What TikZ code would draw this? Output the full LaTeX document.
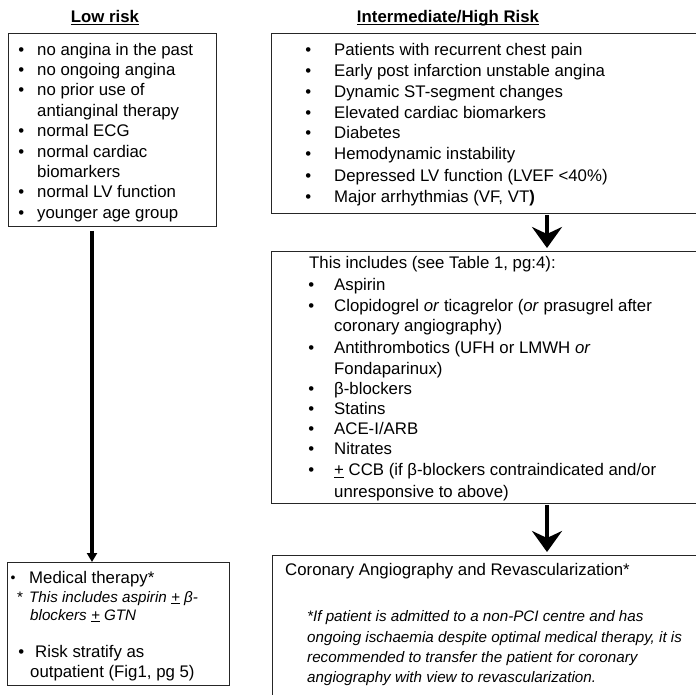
\documentclass[tikz,border=0pt]{standalone}
\usepackage{fontspec}
\setmainfont{Liberation Sans}
\usetikzlibrary{arrows.meta}
\newcommand{\mybul}[1]{\llap{\makebox[0pt]{\textbullet}\hspace{#1pt}}}
\newcommand{\smbul}[1]{\llap{\makebox[0pt]{\raisebox{0.6pt}{\fontsize{14}{14}\selectfont\textbullet}}\hspace{#1pt}}}
\newcommand{\pmu}{\underline{+}}
\begin{document}
\begin{tikzpicture}[x=1pt,y=-1pt,
  box/.style={draw=black!85, line width=0.9pt, anchor=north west, inner sep=0pt},
  txt/.style={anchor=base west, inner sep=0pt, font=\fontsize{16.8}{20}\selectfont},
  itx/.style={anchor=base west, inner sep=0pt, font=\fontsize{15.2}{18}\selectfont\itshape},
  ttl/.style={anchor=base, inner sep=0pt, font=\fontsize{16.8}{20}\selectfont\bfseries},
  thinarrow/.style={line width=3.5pt, -{Triangle[width=10pt,length=9pt]}},
  bigarrow/.style={line width=4pt, -{Stealth[width=30pt,length=21pt,inset=7pt]}}]
\useasboundingbox (0,0) rectangle (696,694);

% titles
\node[ttl] (tlow) at (105,22.7) {\underline{\smash{Low risk}}};
\node[ttl] (thigh) at (448,22.7) {\underline{\smash{Intermediate/High Risk}}};

% boxes
\node[box, minimum width=208pt, minimum height=193pt] (low) at (8,33) {};
\node[box, minimum width=426pt, minimum height=180pt] (high) at (271,33) {};
\node[box, minimum width=426pt, minimum height=252pt] (mid) at (271,251) {};
\node[box, minimum width=222pt, minimum height=123pt] (med) at (7,562) {};
\node[box, minimum width=428pt, minimum height=145pt] (cor) at (272,555) {};

% low risk text
\node[txt] (lo1) at (37,55) {\mybul{16}no angina in the past};
\node[txt] (lo2) at (37,75.4) {\mybul{16}no ongoing angina};
\node[txt] (lo3) at (37,95.8) {\mybul{16}no prior use of};
\node[txt] (lo4) at (37,116.2) {antianginal therapy};
\node[txt] (lo5) at (37,136.6) {\mybul{16}normal ECG};
\node[txt] (lo6) at (37,157) {\mybul{16}normal cardiac};
\node[txt] (lo7) at (37,177.4) {biomarkers};
\node[txt] (lo8) at (37,197.8) {\mybul{16}normal LV function};
\node[txt] (lo9) at (37,218.2) {\mybul{16}younger age group};

% high risk text
\node[txt] (hi1) at (334,55) {\mybul{26}Patients with recurrent chest pain};
\node[txt] (hi2) at (334,76) {\mybul{26}Early post infarction unstable angina};
\node[txt] (hi3) at (334,97) {\mybul{26}Dynamic ST-segment changes};
\node[txt] (hi4) at (334,118) {\mybul{26}Elevated cardiac biomarkers};
\node[txt] (hi5) at (334,138.5) {\mybul{26}Diabetes};
\node[txt] (hi6) at (334,159) {\mybul{26}Hemodynamic instability};
\node[txt] (hi7) at (334,181.5) {\mybul{26}Depressed LV function (LVEF <40\%)};
\node[txt] (hi8) at (334,202.5) {\mybul{26}Major arrhythmias (VF, VT\textbf{)}};

% middle text
\node[txt] (mi0) at (309,268.4) {This includes (see Table 1, pg:4):};
\node[txt] (mi1) at (334,290.7) {\mybul{23}Aspirin};
\node[txt] (mi2) at (334,311.7) {\mybul{23}Clopidogrel \textit{or} ticagrelor (\textit{or} prasugrel after};
\node[txt] (mi3) at (334,331.7) {coronary angiography)};
\node[txt] (mi4) at (334,353.7) {\mybul{23}Antithrombotics (UFH or LMWH \textit{or}};
\node[txt] (mi5) at (334,374.7) {Fondaparinux)};
\node[txt] (mi6) at (334,394) {\mybul{23}β-blockers};
\node[txt] (mi7) at (334,414) {\mybul{23}Statins};
\node[txt] (mi8) at (334,434.7) {\mybul{23}ACE-I/ARB};
\node[txt] (mi9) at (334,454.7) {\mybul{23}Nitrates};
\node[txt] (mi10) at (334,475.7) {\mybul{23}\pmu{} CCB (if β-blockers contraindicated and/or};
\node[txt] (mi11) at (334,497) {unresponsive to above)};

% coronary text
\node[txt] (co0) at (285,575.7) {Coronary Angiography and Revascularization*};
\node[itx] (co1) at (307,621) {*If patient is admitted to a non-PCI centre and has};
\node[itx] (co2) at (307,642) {ongoing ischaemia despite optimal medical therapy, it is};
\node[itx] (co3) at (307,662) {recommended to transfer the patient for coronary};
\node[itx] (co4) at (307,682) {angiography with view to revascularization.};

% medical text
\node[txt] (me1) at (29,583.5) {\smbul{16}Medical therapy*};
\node[itx] (me2s) at (17,602) {\upshape *};
\node[itx] (me2) at (29,602) {This includes aspirin \pmu{} β-};
\node[itx] (me3) at (30,620) {blockers \pmu{} GTN};
\node[txt] (me4) at (35,657.5) {\llap{\makebox[0pt]{\textbullet}\hspace{14pt}}Risk stratify as};
\node[txt] (me5) at (30,677.5) {outpatient (Fig1, pg 5)};

% connectors
\coordinate (lx) at (92,0);
\coordinate (ax) at (547,0);
\draw[thinarrow, shorten <=4pt] (lx |- low.south) -- (lx |- med.north);
\draw[bigarrow, shorten <=1pt, shorten >=3pt] (ax |- high.south) -- (ax |- mid.north);
\draw[bigarrow, shorten <=1pt, shorten >=3pt] (ax |- mid.south) -- (ax |- cor.north);
\end{tikzpicture}
\end{document}
